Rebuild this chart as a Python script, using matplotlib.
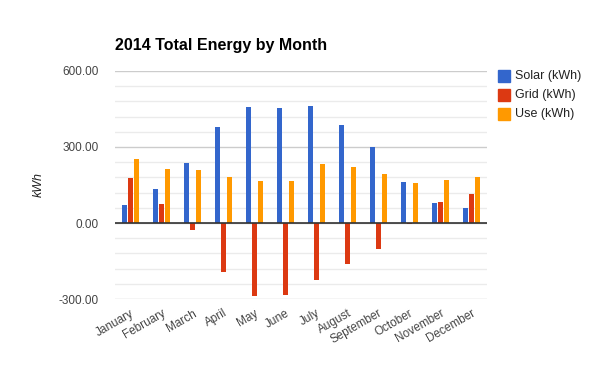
import numpy as np
import matplotlib.pyplot as plt
from matplotlib.patches import Rectangle

months = ["January", "February", "March", "April", "May", "June", "July",
          "August", "September", "October", "November", "December"]
solar = [72, 135, 238, 380, 459, 455, 463, 388, 301, 163, 80, 60]
grid = [179, 76, -29, -195, -289, -285, -226, -163, -104, -5, 84, 116]
use = [254, 214, 210, 183, 167, 167, 234, 222, 195, 159, 171, 183]
series = ["Solar (kWh)", "Grid (kWh)", "Use (kWh)"]
yticks = [-300, 0, 300, 600]

colors = ["#3366CC", "#DC3912", "#FF9900"]
plt.rcParams['font.family'] = ['Liberation Sans', 'DejaVu Sans']

fig = plt.figure(figsize=(6, 3.71), dpi=100)
ax = fig.add_axes([115/600, 72/371, 372/600, 228/371])

x = np.arange(len(months))
w = 0.16
step = 0.19
for i, (vals, c, lab) in enumerate(zip([solar, grid, use], colors, series)):
    ax.bar(x + (i - 1)*step, vals, width=w, color=c, label=lab, zorder=3)

ax.set_xlim(-0.5, len(months) - 0.5)
ax.set_ylim(-300, 600)
ax.set_yticks(yticks)
ax.set_yticklabels(["%.2f" % v for v in yticks])
# minor gridlines every 60
for v in np.arange(-300, 601, 60):
    if v % 300:
        ax.axhline(v, color="#ebebeb", lw=1, zorder=1)
for v in yticks:
    ax.axhline(v, color="#cccccc", lw=1, zorder=1)
ax.axhline(0, color="#333333", lw=1.2, zorder=4)

for s in ax.spines.values():
    s.set_visible(False)
ax.tick_params(axis='both', length=0, colors="#444444", labelsize=8.5)
ax.tick_params(axis='y', pad=12)
ax.set_xticks(x)
ax.set_xticklabels(months, rotation=30, ha='right', rotation_mode='anchor')
ax.tick_params(axis='x', pad=6)

ax.set_ylabel("kWh", style='italic', fontsize=9, color="#222222", labelpad=10)

fig.text(115/600, 1 - 50/371, "2014 Total Energy by Month", fontsize=11.5,
         fontweight='bold', color="black")

# legend drawn by hand to match spacing
for i, (lab, c) in enumerate(zip(series, colors)):
    y = 1 - (76 + i*19)/371
    fig.patches.append(Rectangle((498/600, y - 6/371), 12/600, 12/371,
                                 transform=fig.transFigure, color=c))
    fig.text(515/600, y, lab, fontsize=9, color="#222222", va='center')

fig.savefig("out.png", dpi=100)
